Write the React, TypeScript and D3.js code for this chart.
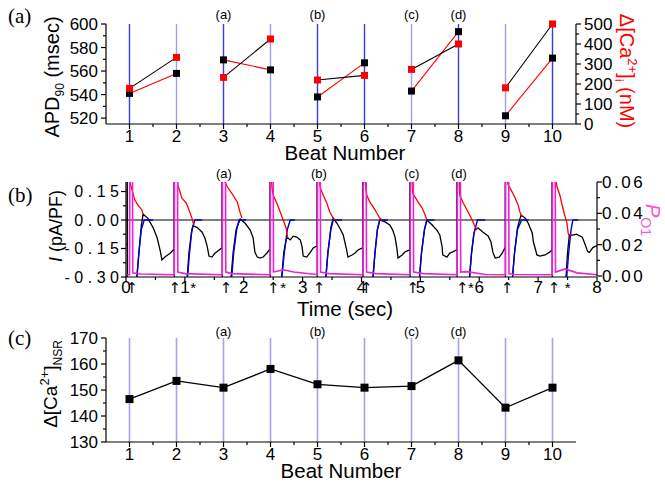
import * as d3 from "d3";
import React from "react";

const SANS = "'Liberation Sans', Arial, Helvetica, sans-serif";
const SERIF = "'Liberation Serif', 'Times New Roman', serif";

// panel (a) and (c): one value per beat
const beats = [1, 2, 3, 4, 5, 6, 7, 8, 9, 10];
const apd90 = [541, 558, 569.5, 561, 538, 567, 543, 593.5, 522, 571];
const caPeak = [178, 333, 233, 425, 220, 243, 273, 400, 181, 500];
const nsrCa = [146.5, 153.5, 150.9, 158.1, 152.2, 150.9, 151.5, 161.4, 143.2, 150.9];
const beatPairs = [[1, 2], [3, 4], [5, 6], [7, 8], [9, 10]];
const strongBeats = [1, 3, 5, 6, 8, 10];
const beatTags: [number, string][] = [[3, "(a)"], [5, "(b)"], [7, "(c)"], [8, "(d)"]];

const apdTicks = [520, 540, 560, 580, 600];
const caTicks = [0, 100, 200, 300, 400, 500];
const nsrTicks = [130, 140, 150, 160, 170];

// panel (b): time traces
const stimTimes = [0.02, 0.815, 1.63, 2.445, 3.244, 4.02, 4.82, 5.62, 6.44, 7.235];
const arrowTimes = [0.1, 0.83, 1.7, 2.5, 3.28, 4.08, 4.87, 5.71, 6.47, 7.27];
const starTimes = [1.14, 2.67, 5.86, 7.5];
const timeTicks = [0, 1, 2, 3, 4, 5, 6, 7, 8];
const currentTicks = [-0.3, -0.15, 0, 0.15];
const poTicks = [0, 0.02, 0.04, 0.06];

const blackTrace = [
  [0, -0.13], [0.02, -0.13], [0.021, 0.3], [0.026, -0.5], [0.18, -0.5], [0.18, -0.32], [0.22, -0.17], [0.26, -0.03], [0.29, 0.03], [0.37, 0.01], [0.46, -0.04], [0.53, -0.095], [0.58, -0.16], [0.61, -0.21], [0.66, -0.195], [0.75, -0.175], [0.81, -0.155],
  [0.815, -0.155], [0.816, 0.3], [0.821, -0.5], [1.035, -0.5], [1.035, -0.32], [1.07, -0.17], [1.11, -0.07], [1.14, -0.03], [1.21, -0.04], [1.29, -0.063], [1.34, -0.095], [1.38, -0.14], [1.41, -0.19], [1.46, -0.195], [1.51, -0.175], [1.56, -0.163], [1.625, -0.147],
  [1.63, -0.147], [1.631, 0.3], [1.636, -0.5], [1.78, -0.5], [1.78, -0.32], [1.82, -0.17], [1.87, -0.05], [1.94, 0.005], [2.02, -0.016], [2.11, -0.053], [2.16, -0.095], [2.19, -0.17], [2.23, -0.195], [2.28, -0.2], [2.33, -0.195], [2.39, -0.175], [2.44, -0.155],
  [2.445, -0.155], [2.446, 0.3], [2.451, -0.5], [2.64, -0.5], [2.64, -0.32], [2.68, -0.17], [2.73, -0.09], [2.79, -0.105], [2.84, -0.085], [2.9, -0.09], [2.96, -0.105], [2.99, -0.14], [3.01, -0.19], [3.07, -0.195], [3.13, -0.17], [3.18, -0.147], [3.24, -0.137],
  [3.244, -0.137], [3.245, 0.3], [3.25, -0.5], [3.39, -0.5], [3.39, -0.32], [3.43, -0.17], [3.48, -0.04], [3.52, 0.01], [3.58, -0.016], [3.63, -0.042], [3.69, -0.079], [3.74, -0.147], [3.77, -0.195], [3.84, -0.184], [3.89, -0.174], [3.94, -0.158], [4.015, -0.147],
  [4.02, -0.147], [4.021, 0.3], [4.026, -0.5], [4.19, -0.5], [4.19, -0.32], [4.23, -0.17], [4.27, -0.05], [4.31, 0], [4.4, -0.01], [4.48, -0.026], [4.53, -0.053], [4.57, -0.09], [4.6, -0.147], [4.62, -0.2], [4.69, -0.184], [4.74, -0.168], [4.815, -0.158],
  [4.82, -0.158], [4.821, 0.3], [4.826, -0.5], [4.98, -0.5], [4.98, -0.32], [5.02, -0.17], [5.07, -0.05], [5.11, 0], [5.2, -0.026], [5.28, -0.053], [5.33, -0.079], [5.37, -0.142], [5.38, -0.184], [5.45, -0.195], [5.5, -0.174], [5.55, -0.168], [5.615, -0.158],
  [5.62, -0.158], [5.621, 0.3], [5.626, -0.5], [5.83, -0.5], [5.83, -0.32], [5.87, -0.17], [5.91, -0.07], [5.93, -0.047], [5.98, -0.042], [6.06, -0.063], [6.15, -0.084], [6.2, -0.116], [6.23, -0.168], [6.27, -0.2], [6.34, -0.195], [6.39, -0.174], [6.435, -0.147],
  [6.44, -0.147], [6.441, 0.3], [6.446, -0.5], [6.56, -0.5], [6.56, -0.32], [6.6, -0.17], [6.65, -0.04], [6.71, 0.026], [6.78, 0.01], [6.83, -0.016], [6.9, -0.068], [6.92, -0.116], [6.98, -0.184], [7.03, -0.19], [7.12, -0.184], [7.2, -0.168], [7.23, -0.16],
  [7.235, -0.16], [7.236, 0.3], [7.241, -0.5], [7.47, -0.5], [7.47, -0.32], [7.5, -0.17], [7.53, -0.08], [7.58, -0.08], [7.65, -0.075], [7.75, -0.09], [7.8, -0.13], [7.84, -0.165], [7.87, -0.17], [7.93, -0.145], [8, -0.135],
];

const blueTraces = [
  [[0.18, -0.32], [0.22, -0.17], [0.26, -0.05], [0.31, 0], [0.46, 0]],
  [[1.04, -0.32], [1.08, -0.17], [1.12, -0.05], [1.17, 0], [1.29, 0]],
  [[1.79, -0.32], [1.83, -0.17], [1.88, -0.05], [1.92, 0], [2.04, 0]],
  [[2.64, -0.32], [2.69, -0.17], [2.74, -0.05], [2.79, 0], [2.87, 0]],
  [[3.39, -0.32], [3.43, -0.17], [3.48, -0.05], [3.52, 0], [3.67, 0]],
  [[4.19, -0.32], [4.23, -0.17], [4.27, -0.05], [4.31, 0], [4.45, 0]],
  [[4.98, -0.32], [5.02, -0.17], [5.07, -0.05], [5.11, 0], [5.24, 0]],
  [[5.83, -0.32], [5.87, -0.17], [5.91, -0.07], [5.97, 0], [6.1, 0]],
  [[6.56, -0.32], [6.6, -0.17], [6.65, -0.05], [6.72, 0], [6.84, 0]],
  [[7.48, -0.32], [7.52, -0.17], [7.56, -0.05], [7.59, 0], [7.68, 0]],
];

const redTraces = [
  [[0.065, 0.22], [0.07, 0.195], [0.15, 0.105], [0.2, 0.08], [0.27, 0.053], [0.29, 0.03]],
  [[0.87, 0.22], [0.88, 0.185], [0.95, 0.115], [1.02, 0.09], [1.05, 0.07], [1.12, 0.01], [1.15, -0.025]],
  [[1.67, 0.22], [1.68, 0.2], [1.72, 0.175], [1.82, 0.13], [1.89, 0.095], [1.94, 0.037], [1.97, 0.01]],
  [[2.47, 0.22], [2.48, 0.17], [2.5, 0.13], [2.56, 0.09], [2.62, 0.042], [2.67, 0], [2.72, -0.042], [2.73, -0.068], [2.75, -0.095]],
  [[3.28, 0.22], [3.3, 0.17], [3.35, 0.13], [3.41, 0.09], [3.46, 0.042], [3.52, 0.01], [3.55, 0]],
  [[4.05, 0.22], [4.06, 0.2], [4.09, 0.13], [4.14, 0.095], [4.2, 0.068], [4.26, 0.037], [4.31, 0.01], [4.35, 0]],
  [[4.85, 0.22], [4.86, 0.2], [4.87, 0.14], [4.96, 0.095], [5.03, 0.063], [5.08, 0.026], [5.11, 0]],
  [[5.65, 0.22], [5.66, 0.2], [5.67, 0.13], [5.72, 0.095], [5.81, 0.042], [5.88, 0], [5.93, -0.037], [5.96, -0.053]],
  [[6.47, 0.22], [6.49, 0.185], [6.56, 0.147], [6.61, 0.116], [6.66, 0.079], [6.69, 0.042], [6.73, 0.016]],
  [[7.3, 0.22], [7.32, 0.175], [7.37, 0.13], [7.42, 0.063], [7.46, 0.016], [7.49, -0.016], [7.51, -0.068], [7.52, -0.079], [7.57, -0.075]],
];

const poTrace = [
  [0, 0.0008], [0.06, 0.0008], [0.065, 0.07], [0.11, 0.07], [0.115, 0.002], [0.25, 0.0013], [0.81, 0.0008],
  [0.82, 0.0008], [0.825, 0.07], [0.875, 0.07], [0.88, 0.0025], [1.0, 0.0015], [1.62, 0.0008],
  [1.635, 0.0008], [1.64, 0.07], [1.69, 0.07], [1.695, 0.0025], [1.8, 0.0015], [2.44, 0.0008],
  [2.45, 0.0008], [2.455, 0.07], [2.5, 0.07], [2.505, 0.0025], [2.67, 0.004], [2.85, 0.0025], [3.24, 0.001],
  [3.25, 0.0008], [3.255, 0.07], [3.3, 0.07], [3.305, 0.0025], [3.45, 0.0015], [4.02, 0.0008],
  [4.025, 0.0008], [4.03, 0.07], [4.08, 0.07], [4.085, 0.0025], [4.25, 0.0015], [4.82, 0.0008],
  [4.825, 0.0008], [4.83, 0.07], [4.88, 0.07], [4.885, 0.0025], [5.05, 0.0015], [5.62, 0.0008],
  [5.625, 0.0008], [5.63, 0.07], [5.68, 0.07], [5.685, 0.0025], [5.79, 0.0028], [6.1, 0.001], [6.44, 0.0008],
  [6.445, 0.0008], [6.45, 0.07], [6.5, 0.07], [6.505, 0.0015], [6.6, 0.001], [7.235, 0.0008],
  [7.24, 0.0008], [7.245, 0.07], [7.29, 0.07], [7.295, 0.0025], [7.46, 0.0045], [7.66, 0.002], [8, 0.0008],
];

const mids = (arr: number[]) => d3.pairs(arr).map(([a, b]) => (a + b) / 2);

function Axis({ scale, at, side, ticks, minor, fmt, fontSize = 17, spacing = 0, gap = 8 }: any) {
  const [r0, r1] = scale.range();
  const vertical = side !== "bottom";
  const dir = side === "left" ? -1 : 1;
  return (
    <g stroke="black" strokeWidth={1.2}>
      {vertical ? (
        <line x1={at} x2={at} y1={r0} y2={r1} />
      ) : (
        <line x1={r0} x2={r1} y1={at} y2={at} />
      )}
      {ticks.map((t: number) =>
        vertical ? (
          <line key={"M" + t} x1={at} x2={at + dir * 5} y1={scale(t)} y2={scale(t)} />
        ) : (
          <line key={"M" + t} x1={scale(t)} x2={scale(t)} y1={at} y2={at + 5} />
        )
      )}
      {minor.map((t: number) =>
        vertical ? (
          <line key={"m" + t} x1={at} x2={at + dir * 3} y1={scale(t)} y2={scale(t)} />
        ) : (
          <line key={"m" + t} x1={scale(t)} x2={scale(t)} y1={at} y2={at + 3} />
        )
      )}
      {fmt &&
        ticks.map((t: number) => (
          <text
            key={"t" + t}
            stroke="none"
            fill="black"
            fontSize={fontSize}
            letterSpacing={spacing}
            x={vertical ? at + dir * gap + (side === "left" ? spacing : 0) : scale(t)}
            y={vertical ? scale(t) + fontSize * 0.36 : at + 18}
            textAnchor={side === "left" ? "end" : side === "right" ? "start" : "middle"}
          >
            {fmt(t)}
          </text>
        ))}
    </g>
  );
}

export default function App() {
  const xA = d3.scaleLinear().domain([0.5, 10.5]).range([106, 576]);
  const yApd = d3.scaleLinear().domain([515, 600]).range([124, 24]);
  const yCa = d3.scaleLinear().domain([0, 500]).range([124, 24]);
  const xT = d3.scaleLinear().domain([0, 8]).range([126, 597]);
  const yI = d3.scaleLinear().domain([-0.3, 0.2]).range([277, 182]);
  const yP = d3.scaleLinear().domain([0, 0.06]).range([276, 182]);
  const yN = d3.scaleLinear().domain([130, 170]).range([442, 338]);

  const lineI = d3.line<number[]>().x((d) => xT(d[0])).y((d) => yI(d[1]));
  const lineP = d3.line<number[]>().x((d) => xT(d[0])).y((d) => yP(d[1]));
  const lineN = d3.line<number>().x((_, i) => xA(beats[i])).y((d) => yN(d));

  const beatMinor = mids([0.5, ...beats, 10.5]).filter((v) => v > 1 && v < 10);
  const fmt2 = (v: number) => v.toFixed(2);
  const str = (v: number) => String(v);
  const sq = 7;

  return (
    <svg width={665} height={485} style={{ position: "absolute", left: 0, top: 0, background: "white" }} fontFamily={SANS}>
      <defs>
        <clipPath id="clipB">
          <rect x={126} y={182} width={471} height={95} />
        </clipPath>
      </defs>

      {/* ---------- panel (a) ---------- */}
      <text x={8} y={23} fontFamily={SERIF} fontSize={21}>(a)</text>
      {beats.map((b) => (
        <line key={b} x1={xA(b)} x2={xA(b)} y1={yCa(500)} y2={yCa(0)}
          stroke={strongBeats.includes(b) ? "#3a3ae0" : "#9d9df0"} strokeWidth={1.4} />
      ))}
      {beatTags.map(([b, s]) => (
        <text key={s} x={xA(b)} y={19} fontSize={13} textAnchor="middle">{s}</text>
      ))}
      {beatPairs.map(([a, b]) => (
        <g key={a}>
          <line x1={xA(a)} x2={xA(b)} y1={yApd(apd90[a - 1])} y2={yApd(apd90[b - 1])} stroke="#ff0000" strokeWidth={1.1} />
          <line x1={xA(a)} x2={xA(b)} y1={yCa(caPeak[a - 1])} y2={yCa(caPeak[b - 1])} stroke="black" strokeWidth={1.1} />
        </g>
      ))}
      {beats.map((b, i) => (
        <g key={b}>
          <rect x={xA(b) - sq / 2} y={yApd(apd90[i]) - sq / 2} width={sq} height={sq} fill="black" />
          <rect x={xA(b) - sq / 2} y={yCa(caPeak[i]) - sq / 2} width={sq} height={sq} fill="#ff0000" />
        </g>
      ))}
      <Axis scale={yApd} at={106} side="left" ticks={apdTicks} minor={mids(apdTicks)} fmt={str} />
      <Axis scale={yCa} at={576} side="right" ticks={caTicks} minor={mids(caTicks)} fmt={str} />
      <Axis scale={xA} at={124} side="bottom" ticks={beats} minor={beatMinor} fmt={str} />
      <text transform="translate(59,77) rotate(-90)" textAnchor="middle" fontSize={20}>
        APD<tspan dy={5} fontSize={12}>90</tspan>
        <tspan dy={-5}> (msec)</tspan>
      </text>
      <text transform="translate(620,71) rotate(90)" textAnchor="middle" fontSize={20} fill="#ff0000">
        Δ[Ca<tspan dy={-8} fontSize={13}>2+</tspan>
        <tspan dy={8}>]</tspan>
        <tspan dy={5} fontSize={13}>i</tspan>
        <tspan dy={-5}> (nM)</tspan>
      </text>
      <text x={345} y={160} textAnchor="middle" fontSize={20.5}>Beat Number</text>

      {/* ---------- panel (b) ---------- */}
      <text x={8} y={202} fontFamily={SERIF} fontSize={21}>(b)</text>
      {beatTags.map(([b, s]) => (
        <text key={s} x={xT(stimTimes[b - 1]) + 2} y={178} fontSize={13} textAnchor="middle">{s}</text>
      ))}
      <g clipPath="url(#clipB)" fill="none">
        <line x1={xT(0)} x2={xT(8)} y1={yI(0)} y2={yI(0)} stroke="black" strokeWidth={1.2} />
        <path d={lineI(blackTrace) || ""} stroke="black" strokeWidth={1.3} />
        {blueTraces.map((tr, i) => (
          <path key={"b" + i} d={lineI(tr) || ""} stroke="#0000d8" strokeWidth={1.4} />
        ))}
        {redTraces.map((tr, i) => (
          <path key={"r" + i} d={lineI(tr) || ""} stroke="#ff0000" strokeWidth={1.3} />
        ))}
        <path d={lineP(poTrace) || ""} stroke="#f020d8" strokeWidth={1.6} />
      </g>
      <Axis scale={yI} at={126} side="left" ticks={currentTicks} minor={mids(currentTicks)} fmt={fmt2} fontSize={16} spacing={4.5} gap={7} />
      <Axis scale={yP} at={597} side="right" ticks={poTicks} minor={mids(poTicks)} fmt={fmt2} fontSize={17} spacing={2.5} gap={5} />
      <Axis scale={xT} at={277} side="bottom" ticks={timeTicks} minor={mids(timeTicks)} />
      <g fontSize={17} textAnchor="middle" fill="black">
        {timeTicks.map((t) => (
          <text key={t} x={xT(t)} y={293}>{t}</text>
        ))}
        {arrowTimes.map((t) => (
          <text key={t} x={xT(t)} y={293} fontFamily="'DejaVu Sans', sans-serif" fontSize={15} fill="black">↑</text>
        ))}
        {starTimes.map((t) => (
          <text key={t} x={xT(t)} y={293} fontSize={15}>*</text>
        ))}
      </g>
      <text transform="translate(62,226) rotate(-90)" textAnchor="middle" fontSize={18}>
        <tspan fontStyle="italic">I</tspan> (pA/PF)
      </text>
      <text transform="translate(646,220) rotate(90)" textAnchor="middle" fontSize={20} fill="#ff55cc">
        <tspan fontStyle="italic">P</tspan>
        <tspan dy={5} fontSize={14}>O1</tspan>
      </text>
      <text x={345} y={316} textAnchor="middle" fontSize={20.5}>Time (sec)</text>

      {/* ---------- panel (c) ---------- */}
      <text x={8} y={345} fontFamily={SERIF} fontSize={21}>(c)</text>
      {beats.map((b) => (
        <line key={b} x1={xA(b)} x2={xA(b)} y1={yN(170)} y2={yN(130)} stroke="#a3a3ec" strokeWidth={1.6} />
      ))}
      {beatTags.map(([b, s]) => (
        <text key={s} x={xA(b)} y={336} fontSize={13} textAnchor="middle">{s}</text>
      ))}
      <path d={lineN(nsrCa) || ""} fill="none" stroke="black" strokeWidth={1.3} />
      {beats.map((b, i) => (
        <rect key={b} x={xA(b) - 4} y={yN(nsrCa[i]) - 4} width={8} height={8} fill="black" />
      ))}
      <Axis scale={yN} at={106} side="left" ticks={nsrTicks} minor={mids(nsrTicks)} fmt={str} />
      <Axis scale={xA} at={442} side="bottom" ticks={beats} minor={beatMinor} fmt={str} />
      <text transform="translate(57,384) rotate(-90)" textAnchor="middle" fontSize={19}>
        Δ[Ca<tspan dy={-8} fontSize={13}>2+</tspan>
        <tspan dy={8}>]</tspan>
        <tspan dy={5} fontSize={12}>NSR</tspan>
      </text>
      <text x={341} y={478} textAnchor="middle" fontSize={20.5}>Beat Number</text>
    </svg>
  );
}
